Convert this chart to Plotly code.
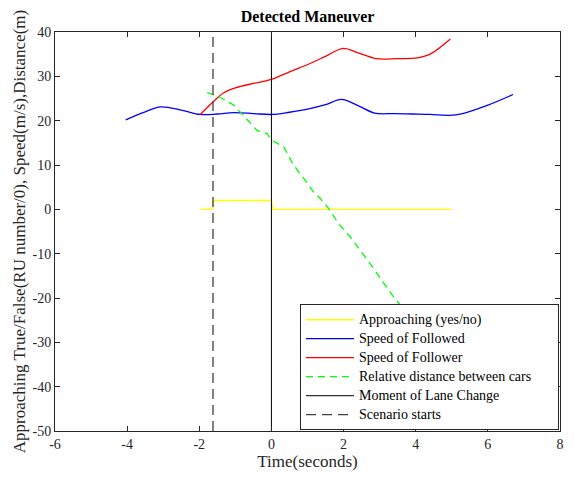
import plotly.graph_objects as go

# ---- data ----
approach_t = [-1.97, -1.65, -1.60, 0.0, 0.03, 5.0]
approach_v = [0, 0, 2, 2, 0, 0]

followed_t = [-4.04, -3.5, -3.07, -2.5, -1.97, -1.5, -1.05, -0.5, 0.0, 0.5, 1.0, 1.5,
              1.94, 2.4, 2.86, 3.4, 3.9, 4.4, 4.92, 5.3, 6.0, 6.7]
followed_v = [20.2, 22.0, 23.1, 22.4, 21.4, 21.5, 21.8, 21.6, 21.4, 21.9, 22.6, 23.6,
              24.8, 23.4, 21.7, 21.6, 21.5, 21.4, 21.2, 21.6, 23.5, 25.9]

follower_t = [-1.97, -1.62, -1.32, -1.0, -0.5, 0.0, 0.5, 1.07, 1.5, 1.99, 2.4, 2.9,
              3.5, 4.0, 4.4, 4.96]
follower_v = [21.4, 24.2, 26.3, 27.4, 28.4, 29.3, 31.0, 32.9, 34.5, 36.3, 35.3, 34.0,
              34.0, 34.1, 35.0, 38.4]

dist_t = [-1.78, -1.5, -1.04, -0.4, -0.12, 0.0, 0.34, 0.62, 0.94, 1.17, 1.35, 1.59,
          1.86, 2.19, 2.74, 3.39, 3.8]
dist_v = [26.3, 25.6, 23.5, 17.8, 17.1, 15.6, 14.1, 9.9, 6.5, 3.9, 2.5, 0.15,
          -3.2, -6.3, -12.3, -19.8, -23.9]

lane_change_t = 0.0
scenario_start_t = -1.62
y_limits = [-50, 40]
x_limits = [-6, 8]

x_tickvals = [-6, -4, -2, 0, 2, 4, 6, 8]
x_ticktext = ["-6", "-4", "-2", "0", "2", "4", "6", "8"]
y_tickvals = [-50, -40, -30, -20, -10, 0, 10, 20, 30, 40]
y_ticktext = ["-50", "-40", "-30", "-20", "-10", "0", "10", "20", "30", "40"]

names = ["Approaching (yes/no)", "Speed of Followed", "Speed of Follower",
         "Relative distance between cars", "Moment of Lane Change", "Scenario starts"]

FONT = "Liberation Serif"
AX = "#262626"


def lg(name):
    # legend label at 14px while the legend rows stay compact; trailing padding
    return '<span style="font-size:14px">' + name + "&nbsp;" * 6 + "</span>"


fig = go.Figure()
fig.add_trace(go.Scatter(x=approach_t, y=approach_v, mode="lines", name=lg(names[0]),
                         line=dict(color="#FFFF00", width=1.4)))
fig.add_trace(go.Scatter(x=followed_t, y=followed_v, mode="lines", name=lg(names[1]),
                         line=dict(color="#0000FF", width=1.3, shape="spline", smoothing=1)))
fig.add_trace(go.Scatter(x=follower_t, y=follower_v, mode="lines", name=lg(names[2]),
                         line=dict(color="#FF0000", width=1.3, shape="spline", smoothing=1)))
fig.add_trace(go.Scatter(x=dist_t, y=dist_v, mode="lines", name=lg(names[3]),
                         line=dict(color="#00FF00", width=1.3, dash="7px,5px")))
fig.add_trace(go.Scatter(x=[lane_change_t, lane_change_t], y=y_limits, mode="lines",
                         name=lg(names[4]), line=dict(color="#000000", width=1)))
fig.add_trace(go.Scatter(x=[scenario_start_t, scenario_start_t], y=y_limits, mode="lines",
                         name=lg(names[5]), line=dict(color="#404040", width=1.3, dash="10px,6px")))

axis_common = dict(showline=True, linecolor=AX, linewidth=1, mirror="ticks",
                   ticks="inside", ticklen=5, tickcolor=AX, tickwidth=1,
                   showgrid=False, zeroline=False,
                   tickfont=dict(family=FONT, size=14, color=AX))

fig.update_xaxes(range=x_limits, tickmode="array", tickvals=x_tickvals, ticktext=x_ticktext,
                 title=dict(text="Time(seconds)", font=dict(family=FONT, size=17, color=AX),
                            standoff=2),
                 **axis_common)
fig.update_yaxes(range=y_limits, tickmode="array", tickvals=y_tickvals, ticktext=y_ticktext,
                 title=dict(text="Approaching True/False(RU number/0), Speed(m/s),Distance(m)",
                            font=dict(family=FONT, size=17, color=AX), standoff=2),
                 **axis_common)

# the page body adds an 8px offset at top/left, so the figure is 8px smaller
fig.update_layout(
    width=566, height=473,
    margin=dict(l=47, r=14, t=24, b=50, autoexpand=False),
    paper_bgcolor="white", plot_bgcolor="white",
    title=dict(text="<b>Detected Maneuver</b>", x=0.5, xref="paper", xanchor="center",
               y=1 - 8 / 473, yanchor="middle",
               font=dict(family=FONT, size=16, color="black")),
    legend=dict(x=0.998, xanchor="right", y=0.002, yanchor="bottom",
                bgcolor="white", bordercolor=AX, borderwidth=1,
                font=dict(family=FONT, size=10, color="black"),
                itemwidth=48, tracegroupgap=0),
    showlegend=True,
)

fig.write_html("out.html")
